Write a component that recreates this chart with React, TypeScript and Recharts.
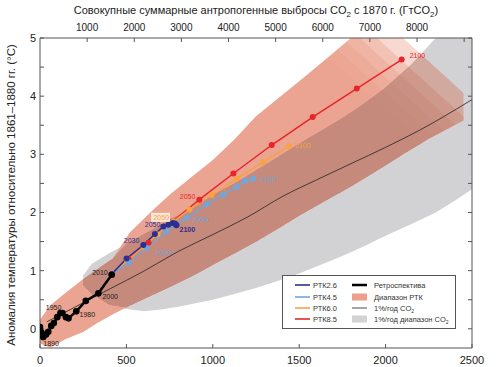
import { ComposedChart, Area, Line, XAxis, YAxis, LabelList, Label } from "recharts"

const FONT = '"Liberation Sans", Arial, sans-serif'

// ретроспектива 1870–2010: накопленные выбросы (ГтC) и аномалия (°C)
const histCum = [0, 8, 19, 35, 48, 65, 80, 100, 118, 130, 150, 165, 210, 265, 338, 415]
const histTemp = [0.03, -0.06, -0.14, -0.1, -0.05, 0.05, 0.1, 0.2, 0.27, 0.27, 0.2, 0.18, 0.3, 0.48, 0.61, 0.93]

// сценарии РТК, 2010–2100 по десятилетиям
const rcp26Cum = [415, 501, 598, 665, 714, 743, 768, 780, 787, 790]
const rcp26Temp = [0.94, 1.21, 1.44, 1.63, 1.76, 1.79, 1.82, 1.81, 1.79, 1.78]
const rcp45Cum = [415, 515, 617, 729, 849, 965, 1061, 1138, 1186, 1234]
const rcp45Temp = [0.94, 1.14, 1.39, 1.67, 1.91, 2.14, 2.31, 2.44, 2.54, 2.58]
const rcp60Cum = [415, 505, 600, 680, 770, 864, 993, 1138, 1292, 1441]
const rcp60Temp = [0.94, 1.17, 1.41, 1.62, 1.84, 2.05, 2.3, 2.58, 2.87, 3.14]
const rcp85Cum = [415, 512, 628, 765, 922, 1119, 1341, 1578, 1833, 2093]
const rcp85Temp = [0.94, 1.2, 1.48, 1.84, 2.22, 2.67, 3.16, 3.64, 4.13, 4.63]

// 1%/год CO2
const onePctCum = [40, 200, 400, 600, 800, 1000, 1200, 1400, 1600, 1800, 2000, 2200, 2500]
const onePctTemp = [0.12, 0.37, 0.68, 0.99, 1.33, 1.62, 1.92, 2.27, 2.56, 2.84, 3.12, 3.42, 3.94]

// диапазон РТК
const rcpRangeCum = [0, 60, 150, 250, 330, 420, 520, 640, 750, 875, 1000, 1125, 1250, 1375, 1500, 1650, 1800, 1950, 2100, 2250, 2450]
const rcpRangeLow = [-0.25, -0.32, -0.17, -0.05, 0.1, 0.25, 0.4, 0.57, 0.72, 0.9, 1.1, 1.3, 1.5, 1.72, 1.95, 2.2, 2.45, 2.72, 3.0, 3.27, 3.58]
const rcpRangeHigh = [0.15, 0.4, 0.62, 0.85, 1.02, 1.2, 1.65, 2.0, 2.3, 2.6, 2.9, 3.25, 3.65, 3.95, 4.25, 4.62, 5.0, 5.0, 5.0, 5.0, 5.0]

// диапазон 1%/год CO2
const onePctRangeCum = [250, 300, 400, 500, 600, 700, 800, 900, 1000, 1125, 1250, 1375, 1500, 1625, 1750, 1875, 2000, 2150, 2290, 2400, 2500]
const onePctRangeLow = [0.75, 0.6, 0.42, 0.34, 0.3, 0.33, 0.38, 0.44, 0.5, 0.6, 0.7, 0.82, 0.95, 1.1, 1.25, 1.42, 1.6, 1.8, 2.0, 2.2, 2.4]
const onePctRangeHigh = [0.92, 1.12, 1.3, 1.46, 1.62, 1.79, 1.95, 2.12, 2.3, 2.5, 2.72, 2.95, 3.18, 3.4, 3.62, 3.87, 4.15, 4.55, 5.0, 5.0, 5.0]

const xTicks = [0, 500, 1000, 1500, 2000, 2500]
const topTicks = [1000, 2000, 3000, 4000, 5000, 6000, 7000, 8000, 9000]
const yTicks = [0, 0.5, 1, 1.5, 2, 2.5, 3, 3.5, 4, 4.5, 5]
const GTC_TO_GTCO2 = 44 / 12

const C26 = "#2c2e92"
const C45 = "#6fa6dd"
const C60 = "#f7a245"
const C85 = "#e9252a"
const SALMON = "#eca08b"
const BROWN = "#c48a7b"
const GRAY = "#d2d2d4"
const AXIS = "#555"

// шлейф РТК тает к правому верхнему углу: слои, срезанные диагоналями
const fadeTops = [1550, 1650, 1750, 1850, 1950, 2100]
const FADE_SLOPE = 0.0027
const LAYER_ALPHA = 0.4

type Pt = { x: number; y: number }
type BandPt = { x: number; lo: number; hi: number }

const pts = (xs: number[], ys: number[]): Pt[] => xs.map((x, i) => ({ x, y: ys[i] }))
const band = (xs: number[], lo: number[], hi: number[]): BandPt[] =>
  xs.map((x, i) => ({ x, lo: lo[i], hi: hi[i] }))

function at(xs: number[], ys: number[], x: number) {
  if (x <= xs[0]) return ys[0]
  for (let i = 1; i < xs.length; i++) {
    if (x <= xs[i]) {
      const t = (x - xs[i - 1]) / (xs[i] - xs[i - 1])
      return ys[i - 1] + t * (ys[i] - ys[i - 1])
    }
  }
  return ys[ys.length - 1]
}

const hist = pts(histCum, histTemp)
const rcp26 = pts(rcp26Cum, rcp26Temp)
const rcp45 = pts(rcp45Cum, rcp45Temp)
const rcp60 = pts(rcp60Cum, rcp60Temp)
const rcp85 = pts(rcp85Cum, rcp85Temp)
const onePct = pts(onePctCum, onePctTemp)
// та же линия в ГтCO2, невидимая — чтобы у верхней оси была серия
const onePctCo2 = pts(onePctCum.map((v) => v * GTC_TO_GTCO2), onePctTemp)
const onePctRange = band(onePctRangeCum, onePctRangeLow, onePctRangeHigh)

// пересечение шлейфов (там цвет темнее)
const overlapX = Array.from(new Set([...rcpRangeCum, ...onePctRangeCum]))
  .filter((x) => x >= onePctRangeCum[0] && x <= rcpRangeCum[rcpRangeCum.length - 1])
  .sort((a, b) => a - b)
const overlapLow = overlapX.map((x) => Math.max(at(rcpRangeCum, rcpRangeLow, x), at(onePctRangeCum, onePctRangeLow, x)))
const overlapHigh = overlapX.map((x, i) =>
  Math.max(overlapLow[i], Math.min(at(rcpRangeCum, rcpRangeHigh, x), at(onePctRangeCum, onePctRangeHigh, x)))
)

// полоса, срезанная сверху прямой cut(x) = 5 - FADE_SLOPE * (x - top)
function clipBand(xs: number[], lo: number[], hi: number[], top: number): BandPt[] {
  const cut = (x: number) => 5 - FADE_SLOPE * (x - top)
  const grid = [...xs]
  for (let i = 1; i < xs.length; i++) {
    for (const arr of [lo, hi]) {
      const d0 = arr[i - 1] - cut(xs[i - 1])
      const d1 = arr[i] - cut(xs[i])
      if (d0 * d1 < 0) grid.push(xs[i - 1] + (d0 / (d0 - d1)) * (xs[i] - xs[i - 1]))
    }
  }
  grid.sort((a, b) => a - b)
  return grid.map((x) => {
    const h = Math.min(at(xs, hi, x), cut(x))
    const l = Math.min(at(xs, lo, x), h)
    return { x, lo: l, hi: h }
  })
}

const rcpLayers = fadeTops.map((t) => clipBand(rcpRangeCum, rcpRangeLow, rcpRangeHigh, t))
const overlapLayers = fadeTops.map((t) => clipBand(overlapX, overlapLow, overlapHigh, t))

type Tag = {
  i: number
  text: string
  dx: number
  dy: number
  anchor: "start" | "end"
  bold?: boolean
  boxed?: boolean
}

const histTags: Tag[] = [
  { i: 2, text: "1890", dx: 0, dy: 9, anchor: "start" },
  { i: 8, text: "1950", dx: 1, dy: -3, anchor: "end" },
  { i: 11, text: "1980", dx: 11, dy: -1, anchor: "start" },
  { i: 14, text: "2000", dx: 4, dy: 6, anchor: "start" },
  { i: 15, text: "2010", dx: -4, dy: 0, anchor: "end" },
]
const tags26: Tag[] = [
  { i: 2, text: "2030", dx: -4, dy: -2, anchor: "end" },
  { i: 4, text: "2050", dx: -3, dy: 1, anchor: "end" },
  { i: 9, text: "2100", dx: 3, dy: 7, anchor: "start", bold: true },
]
const tags45: Tag[] = [
  { i: 2, text: "2030", dx: 9, dy: 7, anchor: "start" },
  { i: 4, text: "2050", dx: 6, dy: 4, anchor: "start" },
  { i: 9, text: "2100", dx: 7, dy: 3, anchor: "start" },
]
const tags60: Tag[] = [
  { i: 4, text: "2050", dx: -4, dy: -2, anchor: "end", boxed: true },
  { i: 9, text: "2100", dx: 6, dy: 2, anchor: "start" },
]
const tags85: Tag[] = [
  { i: 4, text: "2050", dx: -4, dy: -1, anchor: "end" },
  { i: 9, text: "2100", dx: 8, dy: -2, anchor: "start" },
]

function yearLabels(tags: Tag[], color: string) {
  return (props: any) => {
    const tag = tags.find((t) => t.i === props.index)
    if (!tag) return null
    const x = Number(props.x) + tag.dx
    const y = Number(props.y) + tag.dy
    return (
      <g>
        {tag.boxed && (
          <rect x={tag.anchor === "end" ? x - 18 : x - 1} y={y - 7} width={19} height={9} fill="#fde7db" />
        )}
        <text x={x} y={y} textAnchor={tag.anchor} fontSize={7} fontFamily={FONT} fill={color} fontWeight={tag.bold ? 700 : 400}>
          {tag.text}
        </text>
      </g>
    )
  }
}

const legendLeft = [
  { name: "РТК2.6", color: C26 },
  { name: "РТК4.5", color: C45 },
  { name: "РТК6.0", color: C60 },
  { name: "РТК8.5", color: C85 },
]
const legendRight = [
  { name: "Ретроспектива", kind: "thick" },
  { name: "Диапазон РТК", kind: "salmon" },
  { name: "1%/год CO", kind: "thin" },
  { name: "1%/год диапазон CO", kind: "gray" },
]

function LegendBox() {
  const rows = [10, 22, 33, 44]
  return (
    <svg width={174} height={54} style={{ position: "absolute", left: 282, top: 275 }}>
      <rect x={0.5} y={0.5} width={173} height={53} fill="#fff" stroke={AXIS} />
      {legendLeft.map((e, i) => (
        <g key={e.name}>
          <line x1={13} x2={28} y1={rows[i]} y2={rows[i]} stroke={e.color} strokeWidth={1.6} />
          <text x={31} y={rows[i] + 2.5} fontSize={7.5} fontFamily={FONT} fill="#333">{e.name}</text>
        </g>
      ))}
      {legendRight.map((e, i) => (
        <g key={e.name}>
          {e.kind === "thick" && <line x1={70} x2={85} y1={rows[i]} y2={rows[i]} stroke="#000" strokeWidth={2.5} />}
          {e.kind === "thin" && <line x1={70} x2={85} y1={rows[i]} y2={rows[i]} stroke="#222" strokeWidth={0.8} />}
          {e.kind === "salmon" && <rect x={70} y={rows[i] - 3.5} width={15} height={7} fill={SALMON} />}
          {e.kind === "gray" && <rect x={70} y={rows[i] - 3.5} width={15} height={7} fill={GRAY} />}
          <text x={92} y={rows[i] + 2.5} fontSize={7.5} fontFamily={FONT} fill="#333">
            {e.name}
            {e.kind !== "thick" && e.kind !== "salmon" && (
              <tspan fontSize={5} dy={2}>2</tspan>
            )}
          </text>
        </g>
      ))}
    </svg>
  )
}

export default function App() {
  return (
    <div style={{ position: "absolute", left: 0, top: 0, width: 500, height: 367, background: "#fff" }}>
      <ComposedChart
        width={500}
        height={367}
        margin={{ top: 22, right: 24, bottom: 5, left: 18 }}
        style={{ fontFamily: FONT }}
      >
        <XAxis
          xAxisId="bottom"
          dataKey="x"
          type="number"
          domain={[0, 2500]}
          allowDataOverflow
          ticks={xTicks}
          height={14}
          tickSize={-4}
          tickMargin={12}
          stroke={AXIS}
          tick={{ fill: "#222", fontSize: 11 }}
        />
        <XAxis
          xAxisId="top"
          dataKey="x"
          orientation="top"
          type="number"
          domain={[0, 2500 * GTC_TO_GTCO2]}
          allowDataOverflow
          ticks={topTicks}
          tickFormatter={(v) => (v === 9000 ? "" : String(v))}
          height={16}
          tickSize={-4}
          tickMargin={11}
          stroke={AXIS}
          tick={{ fill: "#222", fontSize: 10 }}
        >
          <Label
            content={({ viewBox }: any) => (
              <text x={(viewBox?.x ?? 40) + (viewBox?.width ?? 432) / 2} y={14} textAnchor="middle" fontSize={11} fontFamily={FONT} fill="#222">
                Совокупные суммарные антропогенные выбросы CO
                <tspan fontSize={8} dy={3}>2</tspan>
                <tspan dy={-3}> с 1870 г. (ГтCO</tspan>
                <tspan fontSize={8} dy={3}>2</tspan>
                <tspan dy={-3}>)</tspan>
              </text>
            )}
          />
        </XAxis>
        <YAxis
          yAxisId="left"
          type="number"
          domain={[-0.33, 5]}
          allowDataOverflow
          ticks={yTicks}
          tickFormatter={(v) => (v % 1 === 0 ? String(v) : "")}
          width={22}
          tickSize={-4}
          tickMargin={8}
          stroke={AXIS}
          tick={{ fill: "#222", fontSize: 11 }}
        >
          <Label
            content={() => (
              <text transform="translate(15 195) rotate(-90)" textAnchor="middle" fontSize={11.5} fontFamily={FONT} fill="#222">
                Аномалия температуры относительно 1861–1880 гг. (°C)
              </text>
            )}
          />
        </YAxis>
        <YAxis
          yAxisId="right"
          orientation="right"
          type="number"
          domain={[-0.33, 5]}
          allowDataOverflow
          ticks={yTicks}
          tickFormatter={() => ""}
          width={4}
          tickSize={-4}
          tickMargin={0}
          stroke={AXIS}
        />

        <Area
          xAxisId="bottom"
          yAxisId="left"
          data={onePctRange}
          dataKey={(d: any) => [d.lo, d.hi]}
          type="linear"
          fill={GRAY}
          fillOpacity={1}
          stroke="none"
          isAnimationActive={false}
        />
        {rcpLayers.map((layer, k) => (
          <Area
            key={`rcp${k}`}
            xAxisId="bottom"
            yAxisId="left"
            data={layer}
            dataKey={(d: any) => [d.lo, d.hi]}
            type="linear"
            fill={SALMON}
            fillOpacity={LAYER_ALPHA}
            stroke="none"
            isAnimationActive={false}
          />
        ))}
        {overlapLayers.map((layer, k) => (
          <Area
            key={`ov${k}`}
            xAxisId="bottom"
            yAxisId="left"
            data={layer}
            dataKey={(d: any) => [d.lo, d.hi]}
            type="linear"
            fill={BROWN}
            fillOpacity={LAYER_ALPHA}
            stroke="none"
            isAnimationActive={false}
          />
        ))}
        <Line
          xAxisId="top"
          yAxisId="right"
          data={onePctCo2}
          dataKey="y"
          stroke="none"
          dot={false}
          activeDot={false}
          isAnimationActive={false}
        />
        <Line
          xAxisId="bottom"
          yAxisId="left"
          data={onePct}
          dataKey="y"
          type="monotone"
          stroke="#222"
          strokeWidth={0.8}
          dot={false}
          isAnimationActive={false}
        />
        <Line xAxisId="bottom" yAxisId="left" data={rcp85} dataKey="y" stroke={C85} strokeWidth={1.5} dot={{ r: 3, fill: C85, stroke: C85, strokeWidth: 0 }} isAnimationActive={false}>
          <LabelList dataKey="y" content={yearLabels(tags85, C85)} />
        </Line>
        <Line xAxisId="bottom" yAxisId="left" data={rcp60} dataKey="y" stroke={C60} strokeWidth={1.5} dot={{ r: 3, fill: C60, stroke: C60, strokeWidth: 0 }} isAnimationActive={false}>
          <LabelList dataKey="y" content={yearLabels(tags60, C60)} />
        </Line>
        <Line xAxisId="bottom" yAxisId="left" data={rcp45} dataKey="y" stroke={C45} strokeWidth={1.5} dot={{ r: 3, fill: C45, stroke: C45, strokeWidth: 0 }} isAnimationActive={false}>
          <LabelList dataKey="y" content={yearLabels(tags45, C45)} />
        </Line>
        <Line xAxisId="bottom" yAxisId="left" data={rcp26} dataKey="y" stroke={C26} strokeWidth={1.5} dot={{ r: 3, fill: C26, stroke: C26, strokeWidth: 0 }} isAnimationActive={false}>
          <LabelList dataKey="y" content={yearLabels(tags26, C26)} />
        </Line>
        <Line xAxisId="bottom" yAxisId="left" data={hist} dataKey="y" stroke="#000" strokeWidth={2.5} dot={{ r: 3.3, fill: "#000", stroke: "#000", strokeWidth: 0 }} isAnimationActive={false}>
          <LabelList dataKey="y" content={yearLabels(histTags, "#222")} />
        </Line>
      </ComposedChart>
      <LegendBox />
    </div>
  )
}
